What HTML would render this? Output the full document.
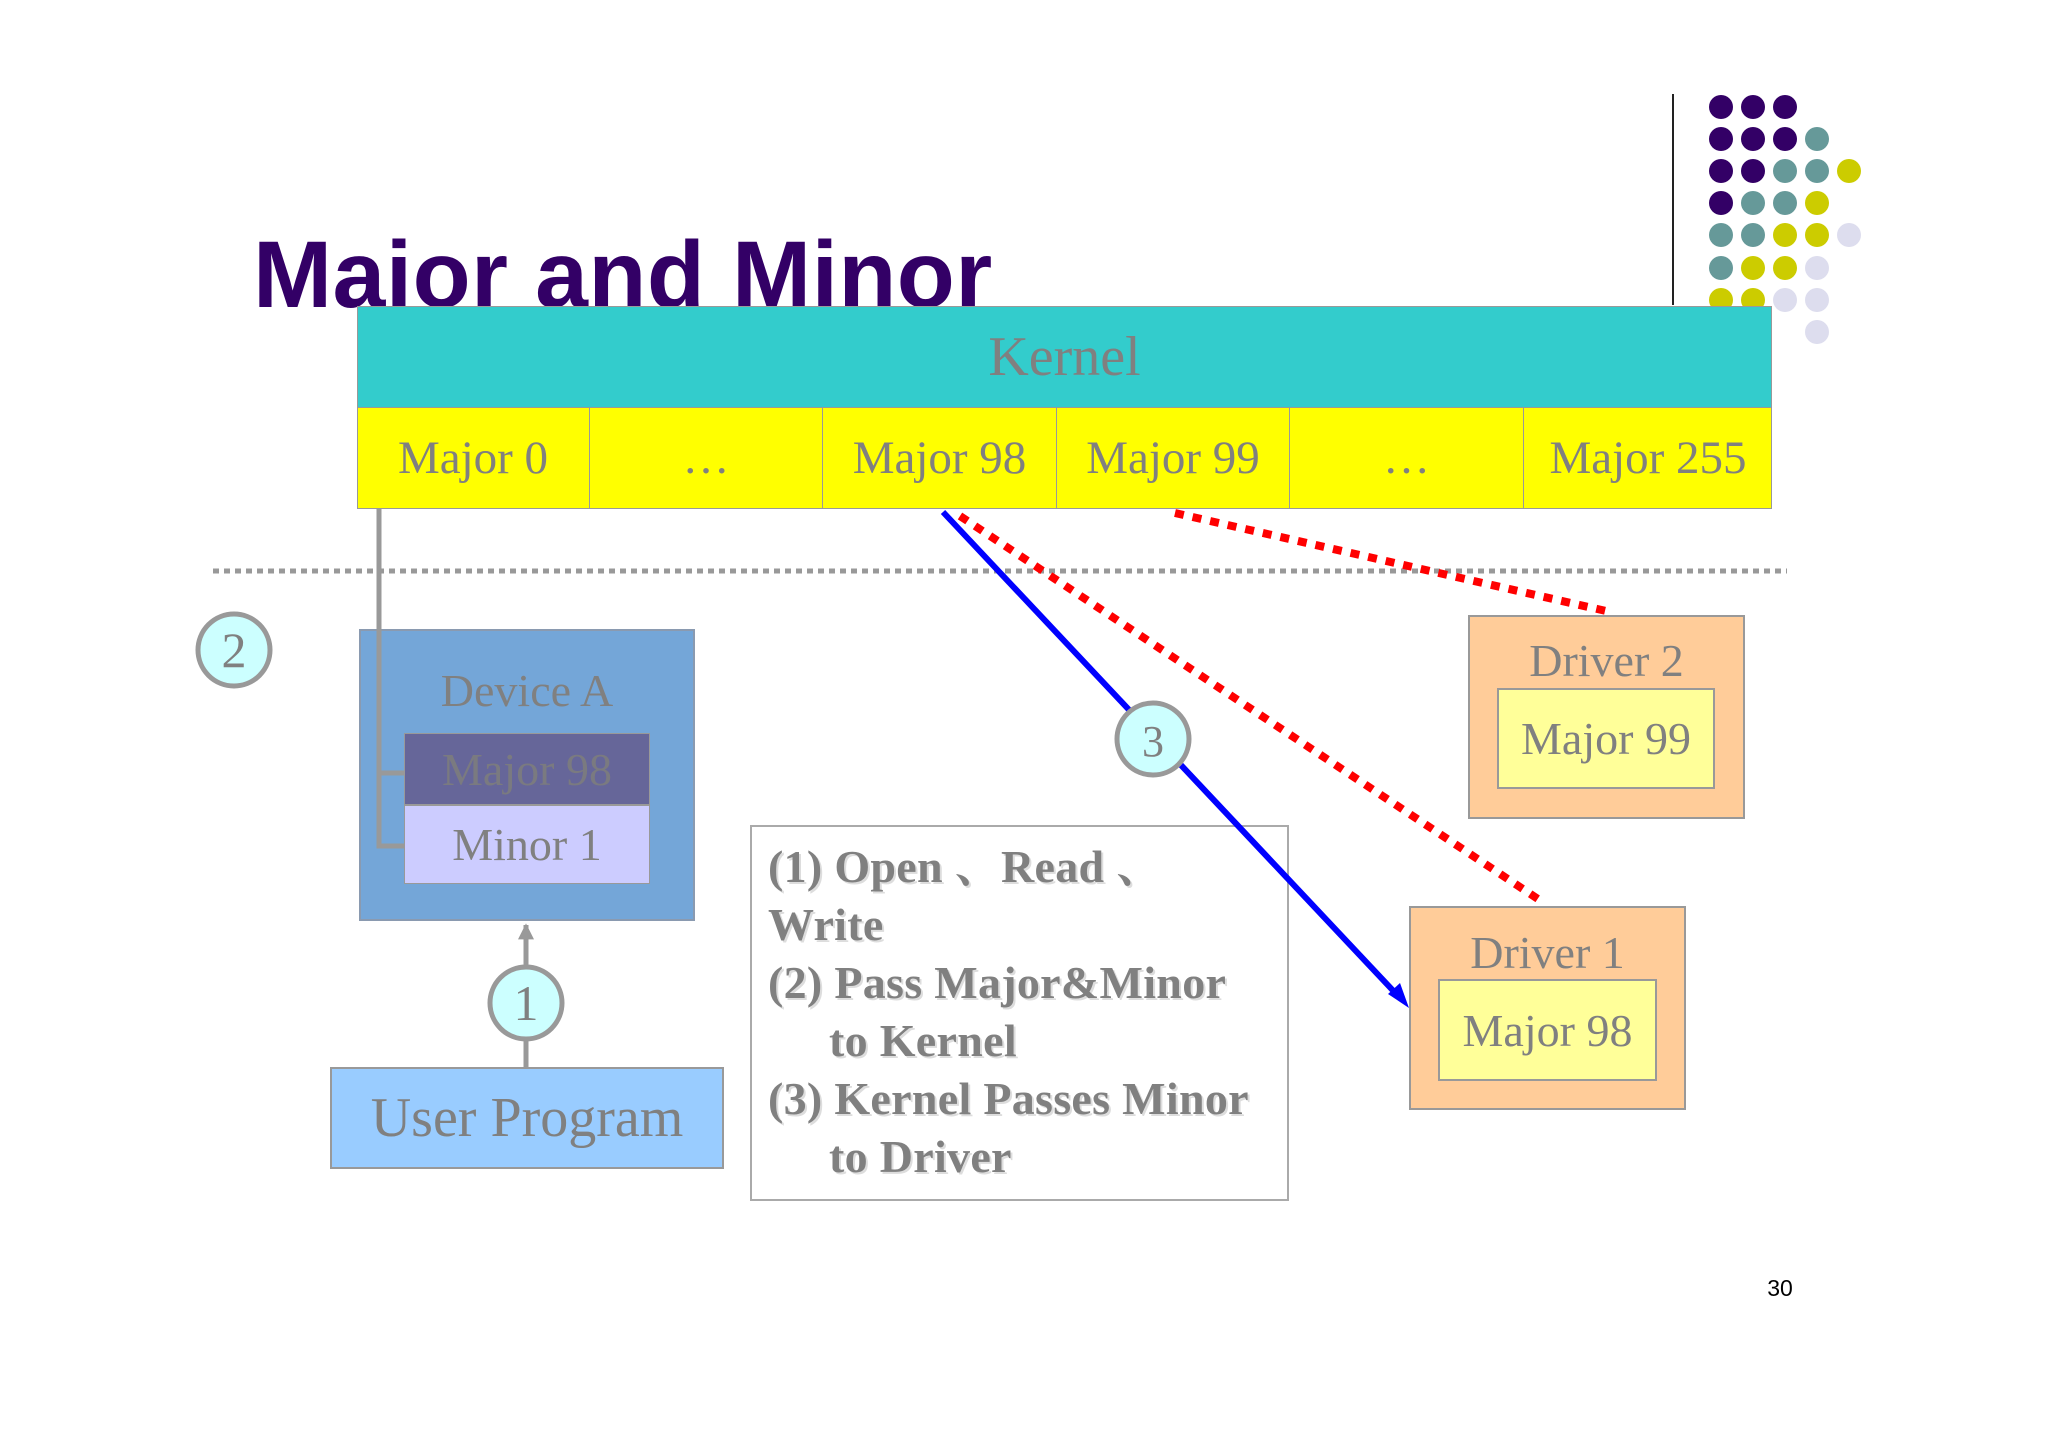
<!DOCTYPE html>
<html><head><meta charset="utf-8"><style>
body{margin:0;width:2048px;height:1447px;background:#fff;position:relative;overflow:hidden;font-family:"Liberation Serif",serif}
.a{position:absolute;box-sizing:border-box}
.c{display:flex;align-items:center;justify-content:center;color:#808080}
</style></head><body>
<div class="a" style="left:253px;top:221px;font:bold 95px 'Liberation Sans',sans-serif;color:#330066;white-space:nowrap;letter-spacing:0.4px">Major and Minor</div>
<svg class="a" style="left:0;top:0" width="2048" height="1447">
<line x1="1673" y1="94" x2="1673" y2="305" stroke="#222" stroke-width="2"/>
<g>
<circle cx="1721" cy="107" r="12" fill="#330066"/><circle cx="1753" cy="107" r="12" fill="#330066"/><circle cx="1785" cy="107" r="12" fill="#330066"/>
<circle cx="1721" cy="139" r="12" fill="#330066"/><circle cx="1753" cy="139" r="12" fill="#330066"/><circle cx="1785" cy="139" r="12" fill="#330066"/><circle cx="1817" cy="139" r="12" fill="#669999"/>
<circle cx="1721" cy="171" r="12" fill="#330066"/><circle cx="1753" cy="171" r="12" fill="#330066"/><circle cx="1785" cy="171" r="12" fill="#669999"/><circle cx="1817" cy="171" r="12" fill="#669999"/><circle cx="1849" cy="171" r="12" fill="#cccc00"/>
<circle cx="1721" cy="203" r="12" fill="#330066"/><circle cx="1753" cy="203" r="12" fill="#669999"/><circle cx="1785" cy="203" r="12" fill="#669999"/><circle cx="1817" cy="203" r="12" fill="#cccc00"/>
<circle cx="1721" cy="235" r="12" fill="#669999"/><circle cx="1753" cy="235" r="12" fill="#669999"/><circle cx="1785" cy="235" r="12" fill="#cccc00"/><circle cx="1817" cy="235" r="12" fill="#cccc00"/><circle cx="1849" cy="235" r="12" fill="#ddddee"/>
<circle cx="1721" cy="268" r="12" fill="#669999"/><circle cx="1753" cy="268" r="12" fill="#cccc00"/><circle cx="1785" cy="268" r="12" fill="#cccc00"/><circle cx="1817" cy="268" r="12" fill="#ddddee"/>
<circle cx="1721" cy="300" r="12" fill="#cccc00"/><circle cx="1753" cy="300" r="12" fill="#cccc00"/><circle cx="1785" cy="300" r="12" fill="#ddddee"/><circle cx="1817" cy="300" r="12" fill="#ddddee"/>
<circle cx="1817" cy="332" r="12" fill="#ddddee"/>
</g>
</svg>
<div class="a c" style="left:357px;top:306px;width:1415px;height:102px;background:#33cccc;border:1px solid #999;font-size:56px">Kernel</div>
<div class="a" style="left:357px;top:407px;width:1415px;height:102px;background:#ffff00;border:1px solid #999"></div>
<div class="a c" style="left:357px;top:407px;width:233px;height:102px;font-size:47px;border-right:1px solid #999">Major 0</div>
<div class="a c" style="left:590px;top:407px;width:233px;height:102px;font-size:47px;border-right:1px solid #999">…</div>
<div class="a c" style="left:823px;top:407px;width:234px;height:102px;font-size:47px;border-right:1px solid #999">Major 98</div>
<div class="a c" style="left:1057px;top:407px;width:233px;height:102px;font-size:47px;border-right:1px solid #999">Major 99</div>
<div class="a c" style="left:1290px;top:407px;width:234px;height:102px;font-size:47px;border-right:1px solid #999">…</div>
<div class="a c" style="left:1524px;top:407px;width:248px;height:102px;font-size:47px">Major 255</div>

<div class="a" style="left:359px;top:629px;width:336px;height:292px;background:#74a6d8;border:2px solid #8a9ab0"></div>
<div class="a c" style="left:359px;top:660px;width:336px;height:60px;font-size:46px">Device A</div>
<div class="a c" style="left:404px;top:733px;width:246px;height:72px;background:#666699;border:1px solid #999;font-size:46px;color:#7a7a80">Major 98</div>
<div class="a c" style="left:404px;top:805px;width:246px;height:79px;background:#ccccff;border:1px solid #999;font-size:46px">Minor 1</div>
<div class="a c" style="left:330px;top:1067px;width:394px;height:102px;background:#99ccff;border:2px solid #999;font-size:56px">User Program</div>

<div class="a" style="left:1468px;top:615px;width:277px;height:204px;background:#ffcc99;border:2px solid #999"></div>
<div class="a c" style="left:1468px;top:630px;width:277px;height:60px;font-size:46px">Driver 2</div>
<div class="a c" style="left:1497px;top:688px;width:218px;height:101px;background:#ffff99;border:2px solid #999;font-size:46px">Major 99</div>
<div class="a" style="left:1409px;top:906px;width:277px;height:204px;background:#ffcc99;border:2px solid #999"></div>
<div class="a c" style="left:1409px;top:922px;width:277px;height:60px;font-size:46px">Driver 1</div>
<div class="a c" style="left:1438px;top:979px;width:219px;height:102px;background:#ffff99;border:2px solid #999;font-size:46px">Major 98</div>

<div class="a" style="left:750px;top:825px;width:539px;height:376px;background:#fff;border:2px solid #aaa"></div>
<div class="a" style="left:768px;top:838px;font:bold 46px/58px 'Liberation Serif','Noto Serif CJK SC',serif;color:#808080;text-shadow:2px 2px 0 #ddd;white-space:nowrap;letter-spacing:0.3px">(1) Open 、Read 、<br>Write<br>(2) Pass Major&amp;Minor<br><span style="padding-left:61px">to Kernel</span><br>(3) Kernel Passes Minor<br><span style="padding-left:61px">to Driver</span></div>

<svg class="a" style="left:0;top:0" width="2048" height="1447">
<defs><marker id="ag" viewBox="0 0 10 10" refX="9" refY="5" markerWidth="16" markerHeight="16" orient="auto" markerUnits="userSpaceOnUse"><path d="M0,0L10,5L0,10z" fill="#999"/></marker></defs>
<line x1="213" y1="571" x2="1787" y2="571" stroke="#999" stroke-width="5" stroke-dasharray="6,5"/>
<polyline points="379,509 379,846 404,846" fill="none" stroke="#999" stroke-width="5"/>
<line x1="379" y1="773" x2="404" y2="773" stroke="#999" stroke-width="5"/>
<line x1="960" y1="516" x2="1541" y2="901" stroke="#ff0000" stroke-width="8" stroke-dasharray="9,9"/>
<line x1="1175" y1="513" x2="1606" y2="611" stroke="#ff0000" stroke-width="8" stroke-dasharray="9,9"/>
<line x1="943" y1="512" x2="1400" y2="998" stroke="#0000ff" stroke-width="6"/>
<path d="M1409,1008 L1388,994 L1400,983 Z" fill="#0000ff"/>
<line x1="526" y1="1067" x2="526" y2="925" stroke="#999" stroke-width="5" marker-end="url(#ag)"/>
<g font-family="Liberation Serif,serif" font-size="50" fill="#808080" text-anchor="middle">
<circle cx="234" cy="650" r="36" fill="#ccffff" stroke="#999" stroke-width="5"/><text x="234" y="667">2</text>
<circle cx="526" cy="1003" r="36" fill="#ccffff" stroke="#999" stroke-width="5"/><text x="526" y="1020">1</text>
<circle cx="1153" cy="739" r="36" fill="#ccffff" stroke="#999" stroke-width="5"/><text x="1153" y="756" font-size="44">3</text>
</g>
<text x="1780" y="1296" font-family="Liberation Sans,sans-serif" font-size="23" fill="#000" text-anchor="middle">30</text>
</svg>
</body></html>
